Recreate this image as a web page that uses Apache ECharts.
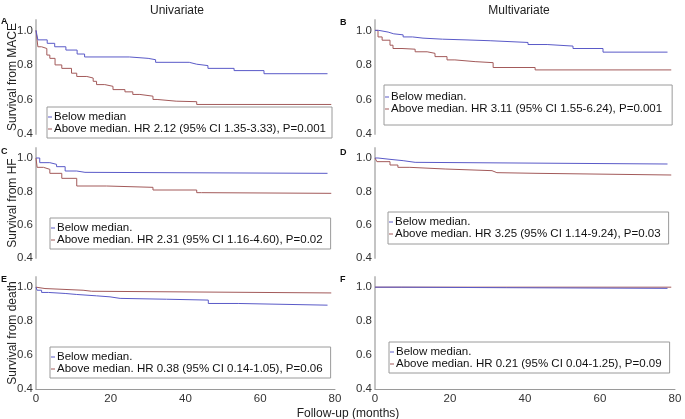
<!DOCTYPE html>
<html>
<head>
<meta charset="utf-8">
<script src="https://cdn.jsdelivr.net/npm/echarts@6/dist/echarts.min.js"></script>
<style>
  html, body {margin:0; padding:0; background:#fff;}
  #chart {width:685px; height:419px;}
</style>
</head>
<body>
<div id="chart"></div>
<script>
// Kaplan-Meier curves: [month, survival]
const maceUniBelow = [[0,1],[0.5,0.945],[3,0.925],[5,0.905],[8,0.886],[11,0.863],[13,0.846],[25,0.838],[30,0.83],[32,0.815],[41,0.804],[43,0.796],[46,0.78],[53,0.767],[61,0.749],[78,0.749]];
const maceUniAbove = [[0,1],[0.5,0.905],[1.5,0.895],[2.9,0.857],[3.7,0.838],[5.1,0.8],[6.9,0.78],[9.5,0.752],[10.9,0.733],[13.6,0.724],[15.3,0.705],[16.2,0.686],[18.4,0.676],[20.6,0.657],[23.8,0.644],[25.9,0.629],[27.8,0.619],[31.3,0.6],[32.4,0.59],[37.5,0.587],[43,0.571],[79,0.571]];
const maceMultiBelow = [[0,1],[1,0.99],[3.5,0.98],[5,0.974],[7.5,0.962],[10,0.955],[12.8,0.949],[18,0.945],[24,0.94],[30.7,0.93],[40.8,0.918],[45.9,0.909],[52.8,0.895],[60.8,0.874],[78,0.874]];
const maceMultiAbove = [[0,1],[0.8,0.962],[1.9,0.943],[4,0.914],[4.8,0.895],[7.2,0.891],[10.7,0.876],[13.9,0.867],[16,0.848],[19.2,0.829],[21.3,0.819],[26.7,0.813],[31.5,0.785],[42.7,0.771],[79,0.771]];
const hfUniBelow = [[0,1],[1,0.972],[3.7,0.962],[5.5,0.948],[7.8,0.922],[10.9,0.914],[13.1,0.908],[78,0.908]];
const hfUniAbove = [[0,1],[0.3,0.944],[2,0.932],[3.7,0.908],[6.9,0.878],[10.9,0.832],[18.9,0.824],[31.3,0.808],[43,0.792],[44.3,0.788],[79,0.788]];
const hfMultiBelow = [[0,1],[0.8,0.992],[4,0.984],[7.5,0.974],[10.7,0.964],[78,0.964]];
const hfMultiAbove = [[0,1],[0.5,0.978],[4,0.958],[6.1,0.944],[9.3,0.934],[18.7,0.924],[31.2,0.912],[32.5,0.908],[43.2,0.898],[79,0.898]];
const deathUniBelow = [[0,1],[0.3,0.982],[1.5,0.969],[3.3,0.963],[7.8,0.957],[10.9,0.949],[16.2,0.943],[19.8,0.934],[22.5,0.929],[34.9,0.924],[46.1,0.904],[54.1,0.894],[78,0.894]];
const deathUniAbove = [[0,1],[0.5,0.992],[2.4,0.982],[12.6,0.976],[14.9,0.966],[79,0.966]];
const deathMultiBelow = [[0,1],[7,0.997],[35,0.993],[78,0.993]];
const deathMultiAbove = [[0,1],[79,0.999]];

const panelLetters = ['A', 'B', 'C', 'D', 'E', 'F'];
const yNames = ['Survival from MACE', 'Survival from HF', 'Survival from death'];
const belowNames = ['Below median', 'Below median.', 'Below median.', 'Below median.', 'Below median.', 'Below median.'];
const aboveNames = [
  'Above median. HR 2.12 (95% CI 1.35-3.33), P=0.001',
  'Above median. HR 3.11 (95% CI 1.55-6.24), P=0.001',
  'Above median. HR 2.31 (95% CI 1.16-4.60), P=0.02',
  'Above median. HR 3.25 (95% CI 1.14-9.24), P=0.03',
  'Above median. HR 0.38 (95% CI 0.14-1.05), P=0.06',
  'Above median. HR 0.21 (95% CI 0.04-1.25), P=0.09'
];
const belowData = [maceUniBelow, maceMultiBelow, hfUniBelow, hfMultiBelow, deathUniBelow, deathMultiBelow];
const aboveData = [maceUniAbove, maceMultiAbove, hfUniAbove, hfMultiAbove, deathUniAbove, deathMultiAbove];

const BLUE = '#5a5ac8', RED = '#a35a5a';
const FONT = 'Liberation Sans, Arial, sans-serif';

// layout
const colLeft = [36, 375], colWidth = [299, 300];
const rowTop = [20, 148, 277], rowHeight = [114, 110, 112];
const legendPos = [
  {left:47, top:107, padding:[4,6,3,1]},
  {left:384, top:85, padding:[6,10,10,1]},
  {left:50, top:218, padding:[4,8,3,1]},
  {left:388, top:212, padding:[4,8,4,1]},
  {left:50, top:347, padding:[4,8,3,1]},
  {left:389, top:342, padding:[4,8,3,1]}
];
const letterPos = [[1,17],[340,18],[1,147],[340,148],[1,275],[340,275]];

let grids = [], xAxes = [], yAxes = [], series = [], legends = [];
let titles = [
  {text:'Univariate', left:172, top:0, textAlign:'center', textStyle:{fontSize:12, fontWeight:'normal', color:'#222', fontFamily:FONT}},
  {text:'Multivariate', left:514, top:0, textAlign:'center', textStyle:{fontSize:12, fontWeight:'normal', color:'#222', fontFamily:FONT}},
  {text:'Follow-up (months)', left:343, top:403, textAlign:'center', textStyle:{fontSize:12, fontWeight:'normal', color:'#222', fontFamily:FONT}}
];

for (let i = 0; i < 6; i++) {
  let row = Math.floor(i / 2), col = i % 2;
  let bottomRow = row == 2;
  grids.push({left:colLeft[col], top:rowTop[row], width:colWidth[col], height:rowHeight[row]});
  xAxes.push({
    gridIndex:i, type:'value', min:0, max:80, interval:20,
    axisLine:{show:bottomRow, onZero:false, lineStyle:{color:'#9a9a9a', width:1}},
    axisTick:{show:false},
    axisLabel:{show:bottomRow, color:'#333', fontSize:11.5, fontFamily:FONT, margin:4},
    splitLine:{show:false}
  });
  yAxes.push({
    gridIndex:i, type:'value', min:0.4, max:1.06, interval:0.2,
    name:col == 0 ? yNames[row] : '', nameLocation:'middle', nameGap:17, nameRotate:90,
    nameMoveOverlap:false,
    nameTextStyle:{fontSize:12, color:'#222', fontFamily:FONT},
    axisLine:{show:true, lineStyle:{color:'#c4c4c4', width:2}},
    axisTick:{show:false},
    axisLabel:{color:'#333', fontSize:11.5, fontFamily:FONT, margin:3,
      formatter:v => Math.abs(v * 5 - Math.round(v * 5)) < 1e-6 ? v.toFixed(1) : ''},
    splitLine:{show:false}
  });
  let lines = [
    {name:aboveNames[i], data:aboveData[i], color:RED},
    {name:belowNames[i], data:belowData[i], color:BLUE}
  ];
  lines.forEach(l => series.push({
    type:'line', name:l.name, xAxisIndex:i, yAxisIndex:i, step:'end',
    showSymbol:false, symbol:'none', data:l.data, color:l.color,
    lineStyle:{width:1, color:l.color}, animation:false, silent:true
  }));
  legends.push({
    left:legendPos[i].left, top:legendPos[i].top, padding:legendPos[i].padding,
    orient:'vertical', data:[belowNames[i], aboveNames[i]],
    icon:'rect', itemWidth:4, itemHeight:1, itemGap:0,
    borderColor:'#9a9a9a', borderWidth:1, backgroundColor:'#fff',
    selectedMode:false,
    textStyle:{fontSize:11.5, color:'#111', fontFamily:FONT, lineHeight:12, padding:[0,0,0,-3]}
  });
  titles.push({text:panelLetters[i], left:letterPos[i][0], top:letterPos[i][1], padding:0,
    textStyle:{fontSize:9, fontWeight:'bold', color:'#111', fontFamily:FONT}});
}

let chart = echarts.init(document.getElementById('chart'), null, {renderer:'canvas'});
chart.setOption({
  backgroundColor:'#fff',
  animation:false,
  title:titles,
  grid:grids,
  xAxis:xAxes,
  yAxis:yAxes,
  legend:legends,
  series:series
});
</script>
</body>
</html>
